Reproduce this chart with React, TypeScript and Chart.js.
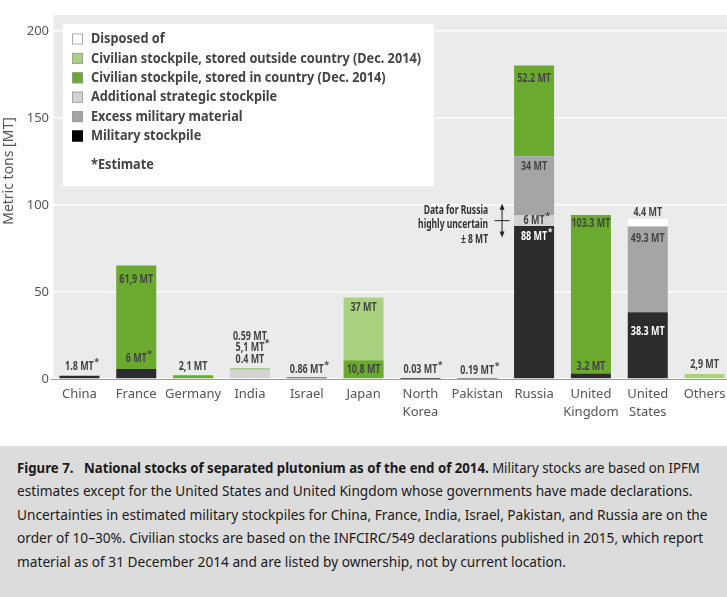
import { useEffect, useRef } from 'react';
import { Chart, registerables } from 'chart.js';

Chart.register(...registerables);

const FONT_C = '"Noto Sans", "Open Sans", "DejaVu Sans", sans-serif';
const FONT_S = '"Noto Sans", "Open Sans", sans-serif';

// ---- data ----
const categories: (string | string[])[] = [
  'China', 'France', 'Germany', 'India', 'Israel', 'Japan', ['North', 'Korea'],
  'Pakistan', 'Russia', ['United', 'Kingdom'], ['United', 'States'], 'Others',
];
const military = [1.8, 5.8, 0, 0.4, 0.86, 0, 0.03, 0.19, 88, 3.2, 38.3, 0];
const additionalStrategic = [0, 0, 0, 5.1, 0, 0, 0, 0, 6, 0, 0, 0];
const excessMilitary = [0, 0, 0, 0, 0, 0, 0, 0, 34, 0, 49.3, 0];
const civilianInCountry = [0, 59.5, 2.1, 0.59, 0, 10.8, 0, 0, 52.2, 91, 0, 0];
const civilianOutside = [0, 0, 0, 0, 0, 36, 0, 0, 0, 0, 0, 2.9];
const disposedOf = [0, 0, 0, 0, 0, 0, 0, 0, 0, 0, 4.4, 0];
const yTicks = [0, 50, 100, 150, 200];

const seriesNames = [
  'Military stockpile',
  'Additional strategic stockpile',
  'Excess military material',
  'Civilian stockpile, stored in country (Dec. 2014)',
  'Civilian stockpile, stored outside country (Dec. 2014)',
  'Disposed of',
];
const seriesColors = ['#2c2c2c', '#d3d3d3', '#a5a5a5', '#6aaa2e', '#a9d17f', '#ffffff'];
const legendOrder = [5, 4, 3, 1, 2, 0];

// [category, series, text, estimate, offset from segment top, white text]
const barLabels: [number, number, string, boolean, number, boolean][] = [
  [0, 0, '1.8 MT', true, -9, false],
  [1, 3, '61,9 MT', false, 14, false],
  [1, 0, '6 MT', true, -10, false],
  [2, 3, '2,1 MT', false, -9, false],
  [3, 3, '0.59 MT', false, -32, false],
  [3, 3, '5,1 MT', true, -21, false],
  [3, 3, '0.4 MT', false, -9, false],
  [4, 0, '0.86 MT', true, -8, false],
  [5, 4, '37 MT', false, 10, false],
  [5, 3, '10,8 MT', false, 9, false],
  [6, 0, '0.03 MT', true, -9, false],
  [7, 0, '0.19 MT', true, -8, false],
  [8, 3, '52.2 MT', false, 13, false],
  [8, 2, '34 MT', false, 10, false],
  [8, 1, '6 MT', true, 5, false],
  [8, 0, '88 MT', true, 11, true],
  [9, 3, '103.3 MT', false, 8, false],
  [9, 0, '3.2 MT', false, -7, false],
  [10, 5, '4.4 MT', false, -6, false],
  [10, 2, '49.3 MT', false, 12, false],
  [10, 0, '38.3 MT', false, 19, true],
  [11, 4, '2,9 MT', false, -9, false],
];
const russiaNote = ['Data for Russia', 'highly uncertain', '± 8 MT'];
const russiaIndex = 8;
const russiaUncertainty = 8;

const captionLines = [
  'estimates except for the United States and United Kingdom whose governments have made declarations.',
  'Uncertainties in estimated military stockpiles for China, France, India, Israel, Pakistan, and Russia are on the',
  'order of 10–30%. Civilian stocks are based on the INFCIRC/549 declarations published in 2015, which report',
  'material as of 31 December 2014 and are listed by ownership, not by current location.',
];
const captionLineWidths = [665, 692, 702, 542];
const captionFirstWidth = 683;

const seriesData = [military, additionalStrategic, excessMilitary, civilianInCountry, civilianOutside, disposedOf];

function measure(font: string, text: string) {
  const c = document.createElement('canvas').getContext('2d')!;
  c.font = font;
  return c.measureText(text).width;
}

function drawScaled(ctx: CanvasRenderingContext2D, text: string, x: number, y: number, sx: number, align: CanvasTextAlign) {
  ctx.save();
  ctx.translate(x, y);
  ctx.scale(sx, 1);
  ctx.textAlign = align;
  ctx.fillText(text, 0, 0);
  ctx.restore();
}

const LEGEND_FONT = `bold 15px ${FONT_C}`;
const LABEL_FONT = `bold 12px ${FONT_C}`;
const STAR_FONT = `bold 9px ${FONT_C}`;

const decorPlugin = {
  id: 'decor',
  beforeDraw(chart: any) {
    const { ctx, chartArea } = chart;
    ctx.save();
    ctx.fillStyle = '#ebebeb';
    ctx.fillRect(chartArea.left + 2.5, chartArea.top - 16, chartArea.right - chartArea.left, chartArea.bottom - chartArea.top + 16);
    ctx.restore();
  },
  beforeDatasetsDraw(chart: any) {
    const { ctx, chartArea } = chart;
    const sx = 330 / measure(LEGEND_FONT, seriesNames[4]);
    const bx = chartArea.left + 12;
    const by = chartArea.top - 7;
    ctx.save();
    ctx.fillStyle = '#ffffff';
    ctx.fillRect(bx, by, 371, 162);
    ctx.font = LEGEND_FONT;
    ctx.textBaseline = 'middle';
    legendOrder.forEach((s, i) => {
      const cy = by + 15 + i * 19.4;
      ctx.fillStyle = s === 0 ? '#000000' : seriesColors[s];
      ctx.fillRect(bx + 9, cy - 5.5, 11, 11);
      ctx.strokeStyle = s === 0 ? '#000' : '#9a9a9a';
      ctx.lineWidth = 0.8;
      ctx.strokeRect(bx + 9.4, cy - 5.1, 10.2, 10.2);
      ctx.fillStyle = '#444';
      drawScaled(ctx, seriesNames[s], bx + 28, cy, sx, 'left');
    });
    drawScaled(ctx, '*Estimate', bx + 28, by + 141, sx, 'left');
    ctx.restore();
  },
  afterDatasetsDraw(chart: any) {
    const { ctx, chartArea } = chart;
    const yScale = chart.scales.y;
    const sxNote = 70 / measure(LABEL_FONT, russiaNote[1]);
    const sxBar = 39 / measure(LABEL_FONT, '103.3 MT');
    ctx.save();
    ctx.textBaseline = 'middle';
    barLabels.forEach(([c, s, text, star, dy, white]) => {
      const el: any = chart.getDatasetMeta(s).data[c];
      const x = el.x;
      const y = Math.min(el.y, el.base) + dy;
      ctx.font = LABEL_FONT;
      ctx.fillStyle = white ? '#ffffff' : '#444444';
      const w = ctx.measureText(text).width * sxBar;
      drawScaled(ctx, text, x, y, sxBar, 'center');
      if (star) {
        ctx.font = STAR_FONT;
        drawScaled(ctx, '*', x + w / 2 + 0.5, y - 4, 1, 'left');
      }
    });

    // Russia uncertainty note
    const rEl: any = chart.getDatasetMeta(0).data[russiaIndex];
    const centerVal = military[russiaIndex] + additionalStrategic[russiaIndex] / 2;
    const yc = yScale.getPixelForValue(centerVal);
    const yt = yScale.getPixelForValue(centerVal + russiaUncertainty) - 3;
    const yb = yScale.getPixelForValue(centerVal - russiaUncertainty) + 3;
    const left = rEl.x - rEl.width / 2;
    const ax = left - 12;
    ctx.strokeStyle = '#222';
    ctx.fillStyle = '#222';
    ctx.lineWidth = 1;
    ctx.beginPath();
    ctx.moveTo(ax, yt + 3);
    ctx.lineTo(ax, yb - 3);
    ctx.moveTo(ax - 7.5, yc);
    ctx.lineTo(ax + 7.5, yc);
    ctx.stroke();
    ctx.beginPath();
    ctx.moveTo(ax, yt);
    ctx.lineTo(ax - 2.5, yt + 6);
    ctx.lineTo(ax + 2.5, yt + 6);
    ctx.closePath();
    ctx.fill();
    ctx.beginPath();
    ctx.moveTo(ax, yb);
    ctx.lineTo(ax - 2.5, yb - 6);
    ctx.lineTo(ax + 2.5, yb - 6);
    ctx.closePath();
    ctx.fill();
    ctx.font = LABEL_FONT;
    ctx.fillStyle = '#333';
    russiaNote.forEach((t, i) => drawScaled(ctx, t, left - 26, yc - 10.5 + i * 14.5, sxNote, 'right'));
    ctx.restore();

    // y axis title
    ctx.save();
    ctx.translate(9, chartArea.top + 140);
    ctx.rotate(-Math.PI / 2);
    ctx.textAlign = 'center';
    ctx.textBaseline = 'middle';
    ctx.font = `14px ${FONT_S}`;
    ctx.fillStyle = '#555';
    ctx.fillText('Metric tons [MT]', 0, 0);
    ctx.restore();
  },
};

const CAPTION_FONT_SIZE = 15;

export default function App() {
  const ref = useRef<HTMLCanvasElement | null>(null);
  const firstRef = useRef<HTMLSpanElement | null>(null);
  const lineRefs = useRef<(HTMLDivElement | null)[]>([]);
  useEffect(() => {
    document.body.style.margin = '0';
    const capFont = `${CAPTION_FONT_SIZE}px ${FONT_C}`;
    const measured = captionLines.reduce((a, l) => a + measure(capFont, l), 0);
    const target = captionLineWidths.reduce((a, b) => a + b, 0);
    const k = target / measured;
    lineRefs.current.forEach((d) => {
      if (d) d.style.transform = `scaleX(${k})`;
    });
    if (firstRef.current) {
      const k1 = captionFirstWidth / firstRef.current.offsetWidth;
      firstRef.current.style.transform = `scaleX(${k1})`;
    }
    const canvas = ref.current;
    if (!canvas) return;
    const chart = new Chart(canvas, {
      type: 'bar',
      data: {
        labels: categories as any,
        datasets: seriesData.map((d, i) => ({
          label: seriesNames[i],
          data: d,
          backgroundColor: seriesColors[i],
          borderWidth: 0,
          categoryPercentage: 1,
          barPercentage: 0.704,
        })),
      },
      options: {
        animation: false,
        responsive: false,
        maintainAspectRatio: false,
        layout: { padding: { left: 0, right: 0, top: 31, bottom: 0 } },
        plugins: { legend: { display: false }, tooltip: { enabled: false } },
        scales: {
          x: {
            stacked: true,
            grid: { display: false, drawTicks: false },
            border: { display: true, color: '#9a9a9a', width: 1 },
            ticks: {
              font: { family: FONT_S, size: 13, lineHeight: 1.4 },
              color: '#555',
              padding: 6,
              maxRotation: 0,
              autoSkip: false,
            },
            afterFit(s: any) { s.height = 67; },
          },
          y: {
            stacked: true,
            min: 0,
            max: 200,
            afterBuildTicks(s: any) { s.ticks = yTicks.map((v) => ({ value: v })); },
            grid: { color: '#ffffff', lineWidth: 1.5, drawTicks: false },
            border: { display: false },
            ticks: { font: { family: FONT_S, size: 13 }, color: '#555', padding: 2 },
            afterFit(s: any) { s.width = 51; },
          },
        },
      },
      plugins: [decorPlugin],
    });
    return () => chart.destroy();
  }, []);

  const lineStyle = { transformOrigin: '0 0', whiteSpace: 'nowrap' as const };

  return (
    <div style={{ width: 727, overflow: 'hidden', background: '#fff' }}>
      <canvas ref={ref} width={733} height={446} style={{ display: 'block', width: 733, height: 446 }} />
      <div
        style={{
          width: 727,
          height: 151,
          boxSizing: 'border-box',
          background: '#dcdcdc',
          padding: '10px 0 0 17px',
          overflow: 'hidden',
          fontFamily: FONT_C,
          fontSize: CAPTION_FONT_SIZE,
          lineHeight: '23.4px',
          color: '#1a1a1a',
        }}
      >
        <div style={{ whiteSpace: 'nowrap' }}>
          <span ref={firstRef} style={{ ...lineStyle, display: 'inline-block' }}>
            <b style={{ marginRight: 12 }}>Figure 7.</b>
            <b>National stocks of separated plutonium as of the end of 2014.</b> Military stocks are based on IPFM
          </span>
        </div>
        {captionLines.map((l, i) => (
          <div key={i} ref={(el) => { lineRefs.current[i] = el; }} style={lineStyle}>{l}</div>
        ))}
      </div>
    </div>
  );
}
